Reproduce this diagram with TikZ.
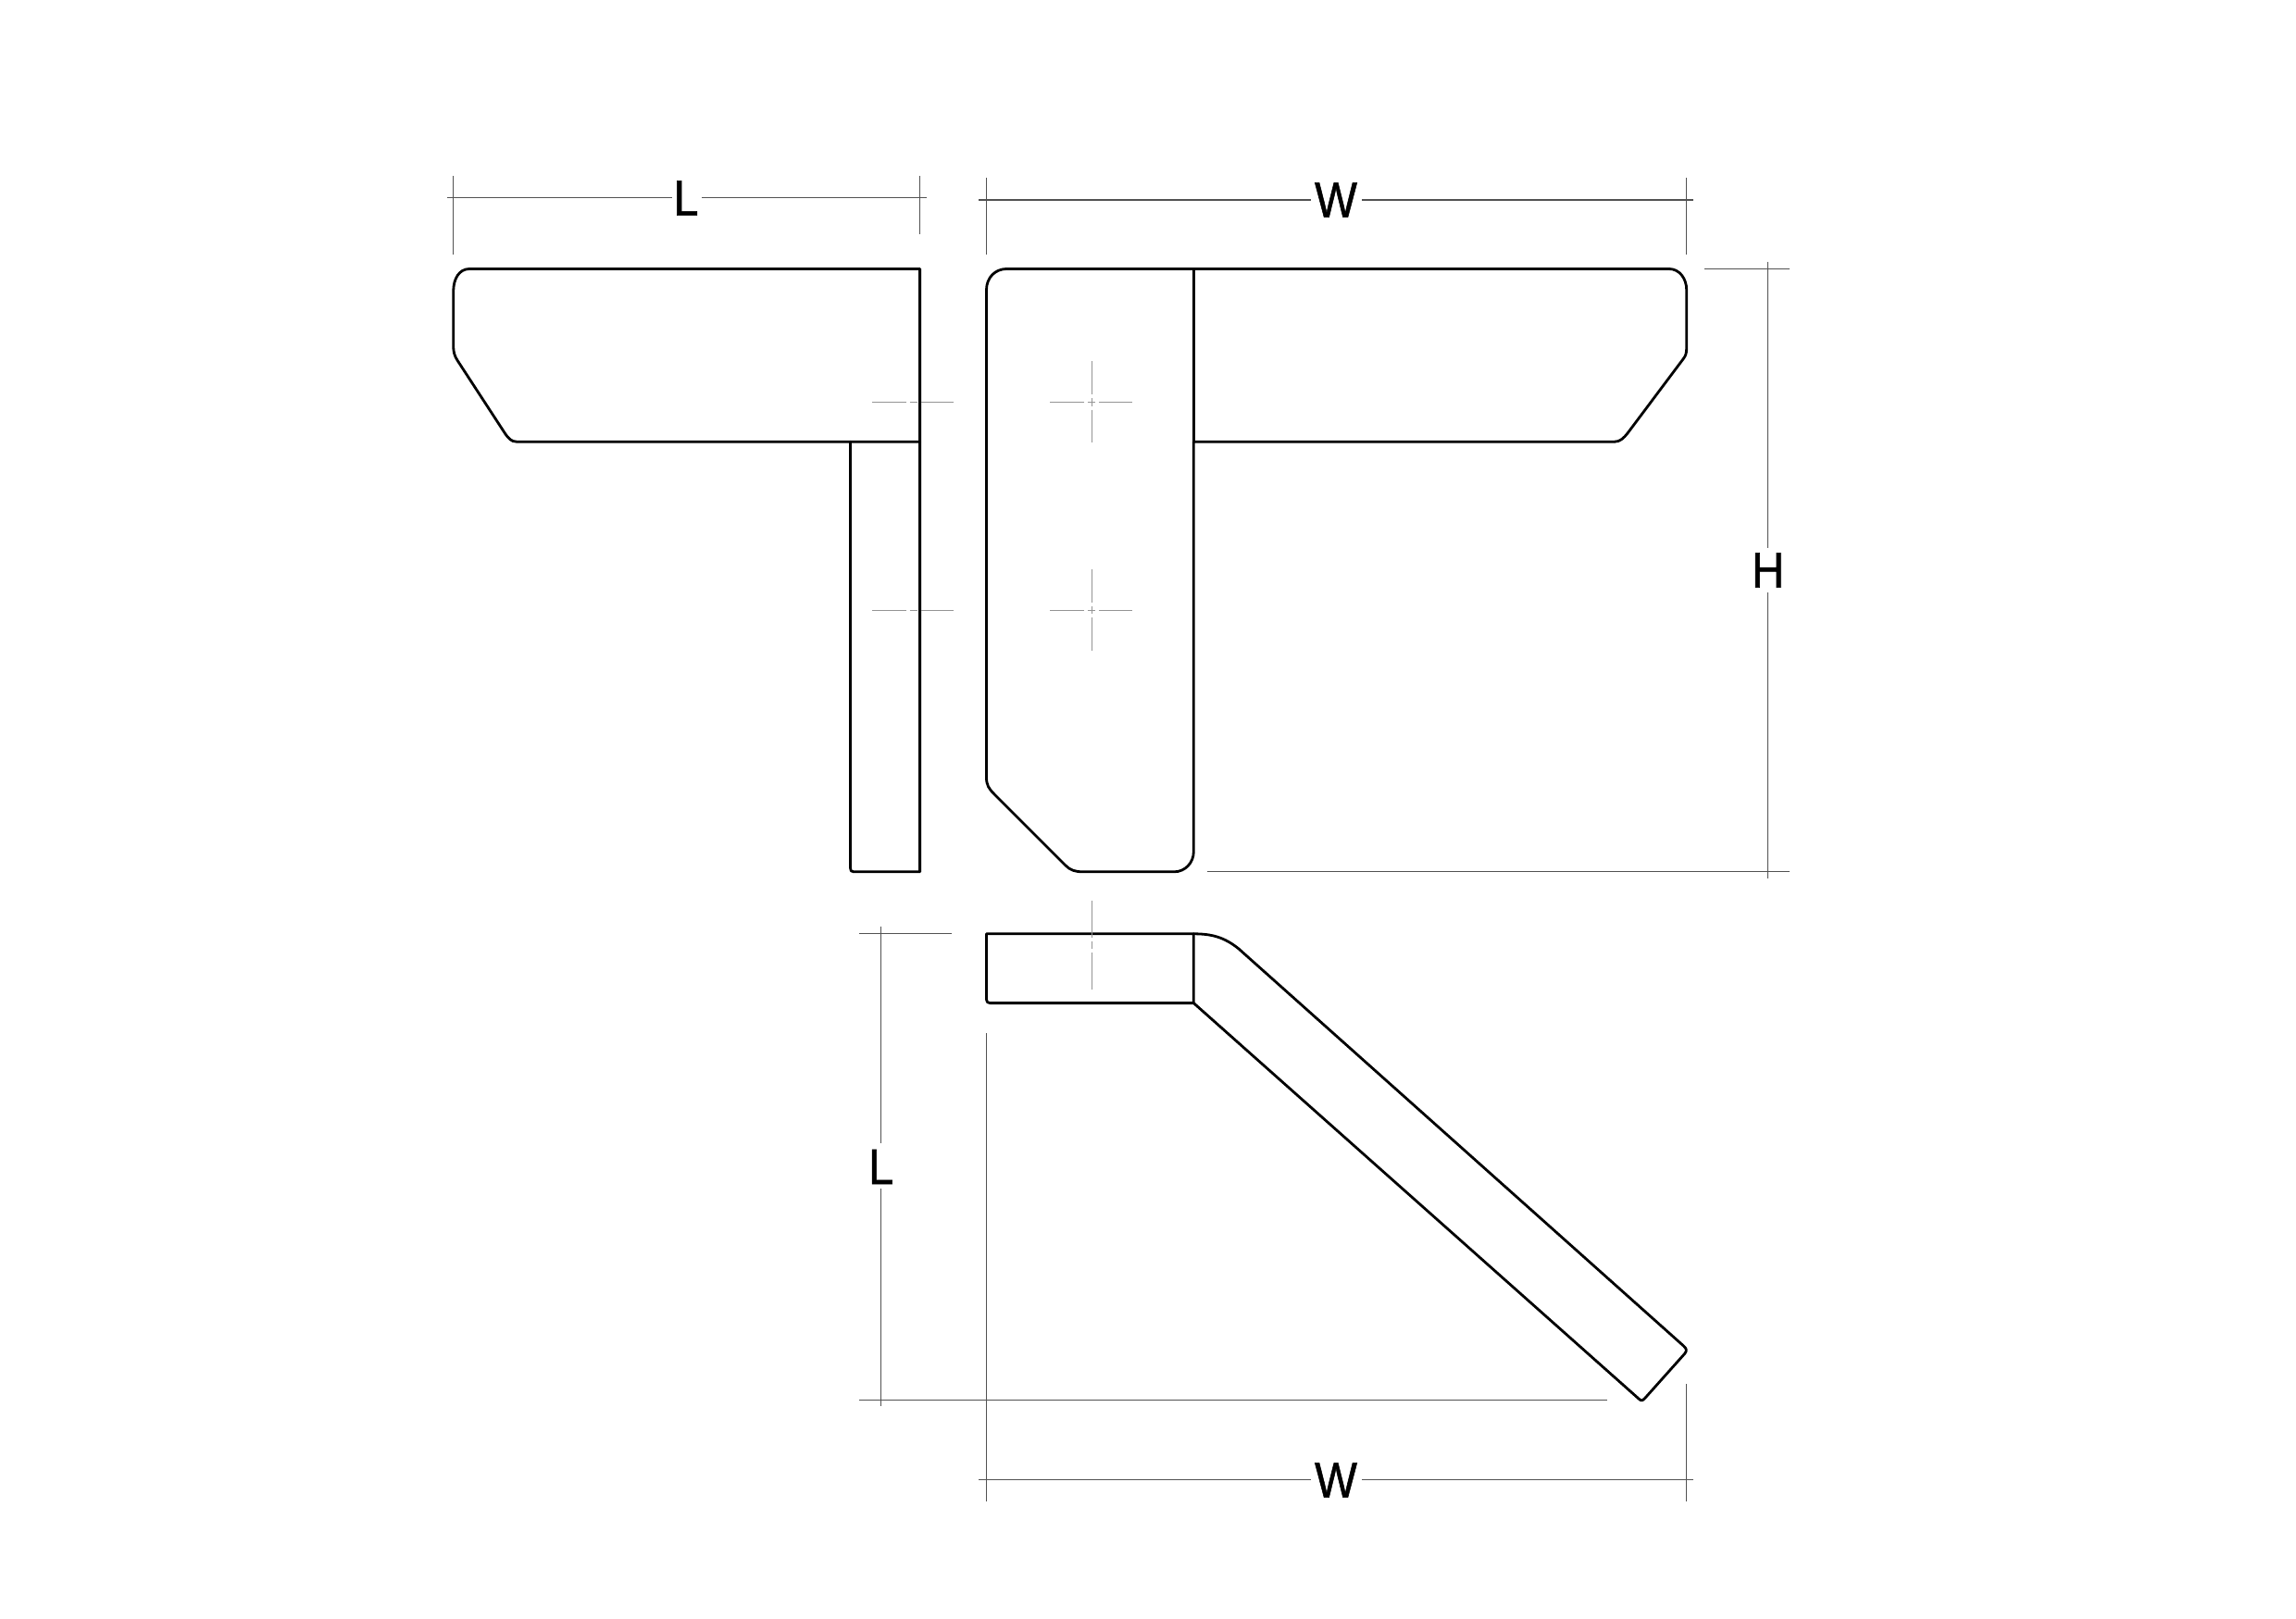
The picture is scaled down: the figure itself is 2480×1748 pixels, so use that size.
\documentclass[tikz,border=0pt]{standalone}
\usepackage{fontspec}
\setmainfont[FakeBold=1]{Liberation Sans}
\tikzset{
  outline/.style={draw=black,line width=2.8pt,line join=round,line cap=round},
  dimline/.style={draw=black!68,line width=1.1pt},
  centreline/.style={draw=black!42,line width=1pt,dash pattern=on 36.4pt off 3.8pt on 8.4pt off 4pt on 36.4pt},
  centrelinelong/.style={draw=black!42,line width=1pt,dash pattern=on 39.4pt off 4pt on 8.3pt off 4.3pt on 39.4pt},
  dimlabel/.style={inner sep=0pt,font=\fontsize{54}{60}\selectfont,text=black,xscale=.9}
}
\begin{document}
\begin{tikzpicture}[x=1pt,y=-1pt]
\path[use as bounding box,fill=white] (0,0) rectangle (2480,1748);

% left view
\path[outline] (507,290.5) -- (993.6,290.5) -- (993.6,477.2) -- (558,477.2)
  .. controls (552,477.2) and (549,473) .. (546,469)
  -- (494.5,390)
  .. controls (491,385) and (489.7,380) .. (489.7,374)
  -- (489.7,315)
  .. controls (489.7,301) and (496,290.5) .. (507,290.5) -- cycle;
\path[outline] (918.5,477.2) -- (918.5,937.7)
  .. controls (918.5,940.5) and (919.5,941.8) .. (922,941.8)
  -- (993.6,941.8) -- (993.6,477.2);

% front view
\path[outline] (1289.3,290.5) -- (1289.3,477.2);
\path[outline] (1289.3,477.2) -- (1289.3,920)
  .. controls (1289.3,932) and (1280,941.8) .. (1268.3,941.8)
  -- (1170,941.8)
  .. controls (1161,941.8) and (1156,940) .. (1151,935)
  -- (1074,858)
  .. controls (1068,852) and (1065.5,848) .. (1065.5,840)
  -- (1065.5,313)
  .. controls (1065.5,300) and (1075,290.5) .. (1087,290.5)
  -- (1803,290.5)
  .. controls (1814,290.5) and (1821.7,301) .. (1821.7,313)
  -- (1821.7,376)
  .. controls (1821.7,381) and (1821,384) .. (1818.3,387.5)
  -- (1758,468)
  .. controls (1754,473) and (1750,477.2) .. (1744,477.2)
  -- (1289.3,477.2);

% plan view
\path[outline] (1065.5,1008.8) -- (1289.3,1008.8) -- (1289.3,1083.6) -- (1069.5,1083.6)
  .. controls (1066.7,1083.6) and (1065.5,1082.3) .. (1065.5,1079.6) -- cycle;
\path[outline] (1289.3,1008.8)
  .. controls (1308,1008.8) and (1322,1012) .. (1338,1025)
  -- (1818.3,1453.8)
  .. controls (1822,1457) and (1822,1459) .. (1820,1462)
  -- (1776.7,1510.5)
  .. controls (1774,1513.5) and (1772.5,1513.5) .. (1770,1511)
  -- (1289.3,1083.6);

% centre lines
\path[centreline] (942.4,434.3) -- (1030,434.3);
\path[centreline] (942.4,659.2) -- (1030,659.2);
\path[centreline] (1134.3,434.3) -- (1222.7,434.3);
\path[centreline] (1179.3,390) -- (1179.3,478.3);
\path[centreline] (1134.3,659.2) -- (1222.7,659.2);
\path[centreline] (1179.3,614.6) -- (1179.3,702.9);
\path[centrelinelong] (1179.3,973.3) -- (1179.3,1068.7);

% labels
\node[dimlabel] (ltop) at (741,214) {L};
\node[dimlabel] (wtop) at (1443,216) {W};
\node[dimlabel] (hlab) at (1909.7,616) {H};
\node[dimlabel] (lleft) at (951.7,1260.5) {L};
\node[dimlabel] (wbot) at (1443,1599) {W};

% dimension L, top
\path[dimline] (483,213.5) -- (725.7,213.5);
\path[dimline] (758,213.5) -- (1001,213.5);
\path[dimline] (489.7,190) -- (489.7,275.3);
\path[dimline] (993.4,190) -- (993.4,252.7);
% dimension W, top
\path[dimline] (1057.3,216) -- (1415.5,216);
\path[dimline] (1471,216) -- (1829.3,216);
\path[dimline] (1065.3,192) -- (1065.3,275.3);
\path[dimline] (1821.7,192) -- (1821.7,275.3);
% dimension H
\path[dimline] (1909.7,282.7) -- (1909.7,591.7);
\path[dimline] (1909.7,640) -- (1909.7,949);
\path[dimline] (1841,290.5) -- (1933.3,290.5);
\path[dimline] (1304.3,941.8) -- (1933.3,941.8);
% dimension L, left
\path[dimline] (928.3,1008.8) -- (1028.3,1008.8);
\path[dimline] (951.7,1000.7) -- (951.7,1235);
\path[dimline] (951.7,1284) -- (951.7,1519.3);
\path[dimline] (927.7,1512.5) -- (1736,1512.5);
% dimension W, bottom
\path[dimline] (1065.3,1116) -- (1065.3,1621.7);
\path[dimline] (1821.7,1495) -- (1821.7,1621.7);
\path[dimline] (1057,1598.6) -- (1415.5,1598.6);
\path[dimline] (1471,1598.6) -- (1829.3,1598.6);
\end{tikzpicture}
\end{document}
